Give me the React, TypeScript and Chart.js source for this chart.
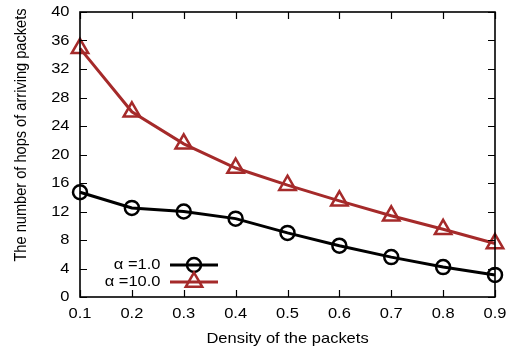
import React, { useEffect, useRef } from "react";
import { Chart, registerables } from "chart.js";

Chart.register(...registerables);

const densities = [0.1, 0.2, 0.3, 0.4, 0.5, 0.6, 0.7, 0.8, 0.9];
const alpha1 = [14.7, 12.5, 12.0, 11.0, 9.0, 7.2, 5.6, 4.2, 3.1];
const alpha10 = [34.9, 26.0, 21.5, 18.1, 15.7, 13.5, 11.4, 9.5, 7.5];
const yTicks = [0, 4, 8, 12, 16, 20, 24, 28, 32, 36, 40];
const xTickLabels = ["0.1", "0.2", "0.3", "0.4", "0.5", "0.6", "0.7", "0.8", "0.9"];
const seriesLabels = ["\u03b1 =1.0", "\u03b1 =10.0"];
const xTitle = "Density of the packets";
const yTitle = "The number of hops of arriving packets";

const BLACK = "#000000";
const RED = "#a52a2a";
const FONT = "'Liberation Sans', Arial, sans-serif";
const FS = 14.6;
const STRETCH = 1.13;

function stretchedText(ctx: any, text: string, x: number, y: number, align: string) {
  ctx.save();
  ctx.translate(x, y);
  ctx.scale(STRETCH, 1);
  ctx.textAlign = align;
  ctx.textBaseline = "middle";
  ctx.fillText(text, 0, 0);
  ctx.restore();
}

const framePlugin = {
  id: "frame",
  afterDraw(chart: any) {
    const { ctx, chartArea: a, scales } = chart;
    ctx.save();
    ctx.strokeStyle = "#000";
    ctx.lineWidth = 1.2;
    const tl = 7;
    ctx.beginPath();
    densities.forEach((v) => {
      const px = Math.round(scales.x.getPixelForValue(v)) + 0.5;
      ctx.moveTo(px, a.bottom);
      ctx.lineTo(px, a.bottom - tl);
      ctx.moveTo(px, a.top);
      ctx.lineTo(px, a.top + tl);
    });
    yTicks.forEach((v) => {
      const py = Math.round(scales.y.getPixelForValue(v)) + 0.5;
      ctx.moveTo(a.left, py);
      ctx.lineTo(a.left + tl, py);
      ctx.moveTo(a.right, py);
      ctx.lineTo(a.right - tl, py);
    });
    ctx.stroke();
    ctx.lineWidth = 1.6;
    ctx.strokeRect(a.left, a.top, a.right - a.left, a.bottom - a.top);

    ctx.fillStyle = "#000";
    ctx.font = `${FS}px ${FONT}`;
    // tick labels
    densities.forEach((v, i) => {
      stretchedText(ctx, xTickLabels[i], scales.x.getPixelForValue(v), 314, "center");
    });
    yTicks.forEach((v) => {
      stretchedText(ctx, String(v), 69.5, scales.y.getPixelForValue(v), "right");
    });

    // titles
    stretchedText(ctx, xTitle, (a.left + a.right) / 2, 339, "center");
    ctx.save();
    ctx.translate(21, 135);
    ctx.rotate(-Math.PI / 2);
    ctx.scale(1, STRETCH);
    ctx.textAlign = "center";
    ctx.textBaseline = "middle";
    ctx.fillText(yTitle, 0, 0);
    ctx.restore();

    // legend
    const items = [
      { label: seriesLabels[0], color: BLACK, style: "circle", r: 7, y: 265 },
      { label: seriesLabels[1], color: RED, style: "triangle", r: 9.5, y: 282 },
    ];
    items.forEach((it) => {
      ctx.fillStyle = "#000";
      stretchedText(ctx, it.label, 160.5, it.y, "right");
      ctx.strokeStyle = it.color;
      ctx.lineWidth = 3;
      ctx.beginPath();
      ctx.moveTo(170, it.y);
      ctx.lineTo(218, it.y);
      ctx.stroke();
      ctx.lineWidth = 2.5;
      ctx.beginPath();
      if (it.style === "circle") {
        ctx.arc(194, it.y, it.r, 0, Math.PI * 2);
      } else {
        let rad = 0;
        ctx.moveTo(194 + Math.sin(rad) * it.r, it.y - Math.cos(rad) * it.r);
        rad += (Math.PI * 2) / 3;
        ctx.lineTo(194 + Math.sin(rad) * it.r, it.y - Math.cos(rad) * it.r);
        rad += (Math.PI * 2) / 3;
        ctx.lineTo(194 + Math.sin(rad) * it.r, it.y - Math.cos(rad) * it.r);
        ctx.closePath();
      }
      ctx.stroke();
    });
    ctx.restore();
  },
};

export default function App() {
  const ref = useRef<HTMLCanvasElement>(null);
  useEffect(() => {
    const canvas = ref.current;
    if (!canvas) return;
    const chart = new Chart(canvas, {
      type: "line",
      data: {
        datasets: [
          {
            label: seriesLabels[0],
            data: densities.map((x, i) => ({ x, y: alpha1[i] })),
            borderColor: BLACK,
            borderWidth: 3,
            pointStyle: "circle",
            pointRadius: 7,
            pointBorderWidth: 2.5,
            pointBorderColor: BLACK,
            pointBackgroundColor: "rgba(0,0,0,0)",
            clip: false as any,
          },
          {
            label: seriesLabels[1],
            data: densities.map((x, i) => ({ x, y: alpha10[i] })),
            borderColor: RED,
            borderWidth: 3,
            pointStyle: "triangle",
            pointRadius: 9.5,
            pointBorderWidth: 2.5,
            pointBorderColor: RED,
            pointBackgroundColor: "rgba(0,0,0,0)",
            clip: false as any,
          },
        ],
      },
      options: {
        responsive: false,
        animation: false,
        layout: { padding: { top: 10, right: 23, left: 0, bottom: 0 } },
        plugins: { legend: { display: false }, tooltip: { enabled: false } },
        scales: {
          x: {
            type: "linear",
            min: 0.1,
            max: 0.9,
            afterFit: (s: any) => {
              s.height = 56;
            },
            grid: { display: false, drawTicks: false },
            border: { display: false },
            ticks: { display: false },
          },
          y: {
            type: "linear",
            min: 0,
            max: 40,
            afterFit: (s: any) => {
              s.width = 80;
            },
            grid: { display: false, drawTicks: false },
            border: { display: false },
            ticks: { display: false, stepSize: 4 },
          },
        },
      },
      plugins: [framePlugin],
    });
    return () => chart.destroy();
  }, []);
  return (
    <div style={{ position: "absolute", left: 0, top: 0, width: 518, height: 353, background: "#fff" }}>
      <canvas ref={ref} width={518} height={353} style={{ display: "block" }} />
    </div>
  );
}
